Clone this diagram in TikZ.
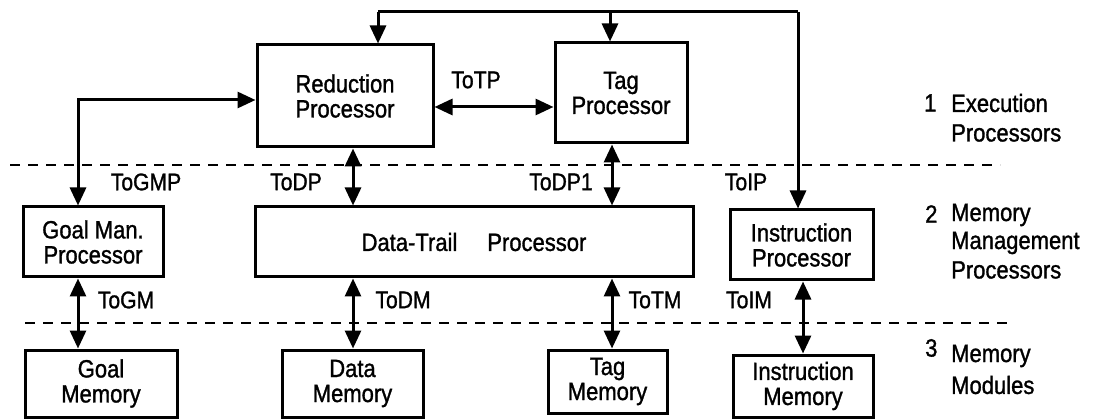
\documentclass[tikz,border=0pt]{standalone}
\usepackage{fontspec}
\setmainfont[FakeStretch=0.88,FakeBold=1.2]{Liberation Sans}
\usetikzlibrary{arrows.meta}
\begin{document}
\begin{tikzpicture}[x=1pt,y=-1pt,
  unit/.style={draw, line width=3pt, inner sep=0pt, align=center,
    font=\fontsize{25}{25}\selectfont},
  link/.style={line width=3pt, arrows={Triangle[length=18pt,width=16pt]-Triangle[length=18pt,width=16pt]}},
  feed/.style={line width=3pt, -{Triangle[length=18pt,width=16pt]}},
  wire/.style={line width=3pt},
  level/.style={line width=2.5pt, dash pattern=on 10pt off 8pt},
  tag/.style={font=\fontsize{24}{24}\selectfont, inner sep=0pt},
  side/.style={font=\fontsize{25}{25}\selectfont, inner sep=0pt, anchor=west}]
\useasboundingbox (0,0) rectangle (1115,419);

% level separators
\draw[level] (10,165) -- (1000,165);
\draw[level] (25,323) -- (1010,323);

% level 1: execution processors
\node[unit, minimum width=176pt, minimum height=102pt] (rp) at (345,96) {Reduction\\Processor};
\node[unit, minimum width=132pt, minimum height=100pt] (tp) at (621,93) {Tag\\Processor};

% level 2: memory management processors
\node[unit, minimum width=140pt, minimum height=70pt] (gmp) at (93,242) {Goal Man.\\Processor};
\node[unit, minimum width=438pt, minimum height=70pt] (dtp) at (474,242) {Data-Trail\hspace{1.2em}Processor};
\node[unit, minimum width=143pt, minimum height=70pt] (ip) at (801.5,245) {Instruction\\Processor};

% level 3: memory modules
\node[unit, minimum width=152pt, minimum height=67pt] (gm) at (101,383.5) {Goal\\Memory};
\node[unit, minimum width=141pt, minimum height=67pt] (dm) at (352.5,383.5) {Data\\Memory};
\node[unit, minimum width=119pt, minimum height=63pt] (tm) at (607.5,381.5) {Tag\\Memory};
\node[unit, minimum width=140pt, minimum height=62pt] (im) at (803,386) {Instruction\\Memory};

% connector columns
\coordinate (xg) at (78,0);
\coordinate (xd) at (353,0);
\coordinate (xt) at (612,0);
\coordinate (xi) at (803,0);
\coordinate (busl) at (378,12);
\coordinate (bust) at (610,12);
\coordinate (busr) at (798,12);
\coordinate (gbend) at (78,100);

% broadcast bus along the top
\draw[wire] (busl) -- (busr);
\draw[feed] (busl) -- (rp.north -| busl);
\draw[feed] (bust) -- (tp.north -| bust);
\draw[feed] (busr) -- (ip.north -| busr);

% reduction processor to goal manager
\draw[link] (gmp.north -| gbend) -- (gbend) -- (rp.west |- gbend);
% reduction processor to tag processor
\draw[link] (rp.east |- 0,107) -- (tp.west |- 0,107);

% level 1 to level 2
\draw[link] (rp.south -| xd) -- (dtp.north -| xd);
\draw[link] (tp.south -| xt) -- (dtp.north -| xt);

% level 2 to level 3
\draw[link] (gmp.south -| xg) -- (gm.north -| xg);
\draw[link] (dtp.south -| xd) -- (dm.north -| xd);
\draw[link] (dtp.south -| xt) -- (tm.north -| xt);
\draw[link] (ip.south -| xi) -- (im.north -| xi);

% channel names
\node[tag] (totp) at (476,80) {ToTP};
\node[tag] (togmp) at (146,182) {ToGMP};
\node[tag] (todp) at (296,182) {ToDP};
\node[tag] (todp1) at (561,182) {ToDP1};
\node[tag] (toip) at (746,182) {ToIP};
\node[tag] (togm) at (126,300) {ToGM};
\node[tag] (todm) at (403,300) {ToDM};
\node[tag] (totm) at (655,300) {ToTM};
\node[tag] (toim) at (749,300) {ToIM};

% level captions
\node[side] (n1) at (924,103) {1};
\node[side] (l1a) at (951,103) {Execution};
\node[side] (l1b) at (951,133) {Processors};
\node[side] (n2) at (925,214) {2};
\node[side] (l2a) at (951,215) {Memory};
\node[side] (l2b) at (951,243) {Management};
\node[side] (l2c) at (951,270) {Processors};
\node[side] (n3) at (925,348) {3};
\node[side] (l3a) at (951,356) {Memory};
\node[side] (l3b) at (951,385) {Modules};
\end{tikzpicture}
\end{document}
